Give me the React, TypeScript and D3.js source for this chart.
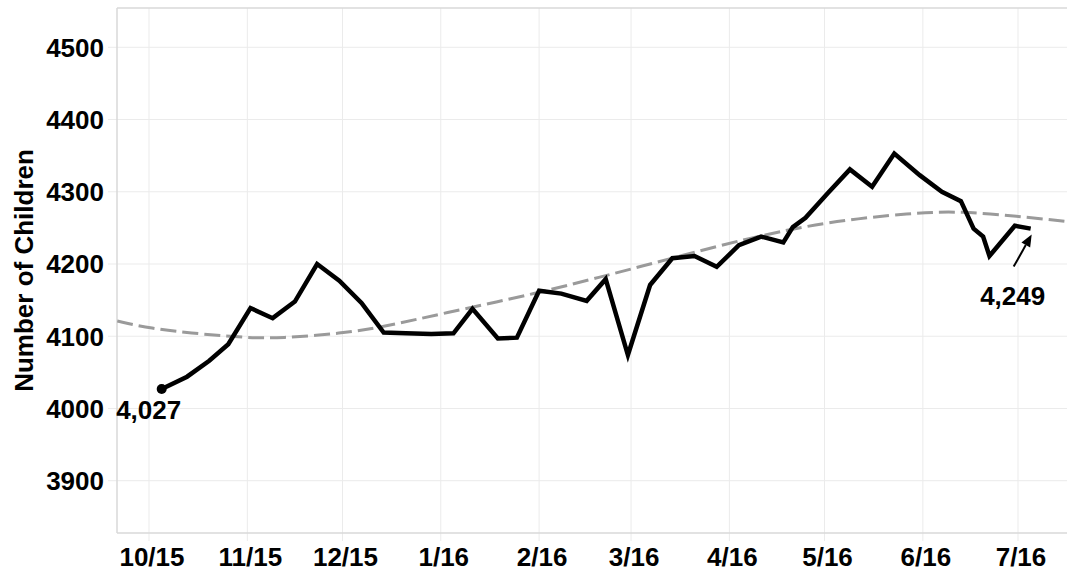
import React, { useEffect, useRef } from 'react';
import * as d3 from 'd3';

// weekly counts
const weekDates = [
  '2015-10-05', '2015-10-13', '2015-10-20', '2015-10-26', '2015-11-02', '2015-11-09',
  '2015-11-16', '2015-11-23', '2015-11-30', '2015-12-07', '2015-12-14', '2015-12-21',
  '2015-12-29', '2016-01-05', '2016-01-11', '2016-01-19', '2016-01-25', '2016-02-01',
  '2016-02-08', '2016-02-16', '2016-02-22', '2016-02-29', '2016-03-07', '2016-03-14',
  '2016-03-21', '2016-03-28', '2016-04-04', '2016-04-11', '2016-04-18', '2016-04-21',
  '2016-04-25', '2016-05-02', '2016-05-09', '2016-05-16', '2016-05-23', '2016-05-31',
  '2016-06-07', '2016-06-13', '2016-06-17', '2016-06-20', '2016-06-22', '2016-06-30',
  '2016-07-05',
];
const childCounts = [
  4027, 4044, 4066, 4089, 4139, 4125,
  4148, 4200, 4177, 4146, 4105, 4104,
  4103, 4104, 4138, 4097, 4098, 4163,
  4159, 4149, 4179, 4074, 4171, 4208,
  4211, 4196, 4226, 4238, 4230, 4251,
  4264, 4298, 4331, 4307, 4353, 4323,
  4300, 4287, 4249, 4238, 4211, 4253,
  4249,
];

// dashed trend curve
const trendDates = [
  '2015-09-21', '2015-10-01', '2015-10-17', '2015-11-01', '2015-11-11', '2015-12-01',
  '2015-12-14', '2016-01-01', '2016-02-01', '2016-02-22', '2016-03-01', '2016-04-01',
  '2016-04-11', '2016-05-01', '2016-05-29', '2016-06-13', '2016-07-01', '2016-07-16',
];
const trendValues = [
  4121, 4111, 4103, 4098, 4097, 4104,
  4113, 4131, 4160, 4184, 4193, 4229,
  4239, 4258, 4271, 4273, 4266, 4259,
];

const monthTicks = [
  '2015-10-01', '2015-11-01', '2015-12-01', '2016-01-01', '2016-02-01',
  '2016-03-01', '2016-04-01', '2016-05-01', '2016-06-01', '2016-07-01',
];
const yTicks = [3900, 4000, 4100, 4200, 4300, 4400, 4500];

const FONT = '"Liberation Sans", Arial, Helvetica, sans-serif';

const App = () => {
  const ref = useRef<SVGSVGElement | null>(null);

  useEffect(() => {
    if (!ref.current) return;
    const svg = d3.select(ref.current);
    svg.selectAll('*').remove();

    const W = 1067, H = 573;
    const left = 117, right = 1067, top = 8, bottom = 533;
    const parse = d3.utcParse('%Y-%m-%d');

    const x = d3.scaleUtc()
      .domain([parse('2015-10-01')!, parse('2016-07-01')!])
      .range([149, 1018]);
    const y = d3.scaleLinear().domain([3900, 4500]).range([480.7, 47.3]);

    const data = weekDates.map((d, i) => ({ date: parse(d)!, v: childCounts[i] }));
    const trend = trendDates.map((d, i) => ({ date: parse(d)!, v: trendValues[i] }));
    const months = monthTicks.map(d => parse(d)!);

    svg.attr('width', W).attr('height', H).style('display', 'block');
    svg.append('rect').attr('width', W).attr('height', H).attr('fill', '#fff');

    svg.append('defs').append('clipPath').attr('id', 'plotClip')
      .append('rect')
      .attr('x', left).attr('y', top)
      .attr('width', right - left).attr('height', bottom - top);

    // grid
    const grid = svg.append('g');
    grid.selectAll('.hg').data(yTicks).enter().append('line')
      .attr('x1', left - 9).attr('x2', right)
      .attr('y1', d => y(d)).attr('y2', d => y(d))
      .attr('stroke', '#ebebeb').attr('stroke-width', 1);
    grid.selectAll('.vg').data(months).enter().append('line')
      .attr('x1', d => x(d)).attr('x2', d => x(d))
      .attr('y1', top).attr('y2', bottom + 8)
      .attr('stroke', '#ebebeb').attr('stroke-width', 1);

    // frame
    svg.append('line').attr('x1', left).attr('x2', right).attr('y1', top).attr('y2', top)
      .attr('stroke', '#d9d9d9').attr('stroke-width', 1.5);
    svg.append('line').attr('x1', left).attr('x2', left).attr('y1', top).attr('y2', bottom)
      .attr('stroke', '#d9d9d9').attr('stroke-width', 1.5);
    svg.append('line').attr('x1', left).attr('x2', right).attr('y1', bottom).attr('y2', bottom)
      .attr('stroke', '#d9d9d9').attr('stroke-width', 1.5);

    // y labels
    svg.append('g').selectAll('text').data(yTicks).enter().append('text')
      .attr('x', 104).attr('y', d => y(d)).attr('dy', '0.36em')
      .attr('text-anchor', 'end')
      .style('font-family', FONT).style('font-size', '26px').style('font-weight', 'bold')
      .attr('fill', '#000')
      .text(d => d);

    // x labels
    const fmt = d3.utcFormat('%-m/%y');
    svg.append('g').selectAll('text').data(months).enter().append('text')
      .attr('x', d => x(d) + 3).attr('y', 566)
      .attr('text-anchor', 'middle')
      .style('font-family', FONT).style('font-size', '26px').style('font-weight', 'bold')
      .attr('fill', '#000')
      .text(d => fmt(d));

    // axis title
    svg.append('text')
      .attr('transform', `translate(33,${(top + bottom) / 2}) rotate(-90)`)
      .attr('text-anchor', 'middle')
      .style('font-family', FONT).style('font-size', '26px').style('font-weight', 'bold')
      .attr('fill', '#000')
      .text('Number of Children');

    // trend
    const trendLine = d3.line<{ date: Date; v: number }>()
      .x(d => x(d.date)).y(d => y(d.v))
      .curve(d3.curveBasis);
    svg.append('path')
      .datum(trend)
      .attr('clip-path', 'url(#plotClip)')
      .attr('fill', 'none')
      .attr('stroke', '#9a9a9a')
      .attr('stroke-width', 3)
      .attr('stroke-dasharray', '16,6')
      .attr('d', trendLine);

    // main series
    const line = d3.line<{ date: Date; v: number }>()
      .x(d => x(d.date)).y(d => y(d.v));
    svg.append('path')
      .datum(data)
      .attr('fill', 'none')
      .attr('stroke', '#000')
      .attr('stroke-width', 4.5)
      .attr('d', line);

    const first = data[0];
    const last = data[data.length - 1];
    svg.append('circle')
      .attr('cx', x(first.date)).attr('cy', y(first.v))
      .attr('r', 5).attr('fill', '#000');

    svg.append('text')
      .attr('x', x(first.date) - 13).attr('y', y(first.v) + 30)
      .attr('text-anchor', 'middle')
      .style('font-family', FONT).style('font-size', '26px').style('font-weight', 'bold')
      .attr('fill', '#000')
      .text(d3.format(',')(first.v));

    // arrow to last point
    const lx = x(last.date), ly = y(last.v);
    const tipX = lx + 1, tipY = ly + 6;
    const sX = lx - 17, sY = ly + 38;
    const ang = Math.atan2(tipY - sY, tipX - sX);
    const hl = 12, hw = 5;
    const bx = tipX - hl * Math.cos(ang), by = tipY - hl * Math.sin(ang);
    svg.append('line')
      .attr('x1', sX).attr('y1', sY).attr('x2', bx).attr('y2', by)
      .attr('stroke', '#000').attr('stroke-width', 2);
    svg.append('polygon')
      .attr('points', [
        [tipX, tipY],
        [bx + hw * Math.sin(ang), by - hw * Math.cos(ang)],
        [bx - hw * Math.sin(ang), by + hw * Math.cos(ang)],
      ].map(p => p.join(',')).join(' '))
      .attr('fill', '#000');

    svg.append('text')
      .attr('x', lx - 18).attr('y', ly + 76)
      .attr('text-anchor', 'middle')
      .style('font-family', FONT).style('font-size', '26px').style('font-weight', 'bold')
      .attr('fill', '#000')
      .text(d3.format(',')(last.v));
  }, []);

  return (
    <div style={{ position: 'absolute', left: 0, top: 0 }}>
      <svg ref={ref} />
    </div>
  );
};

export default App;
